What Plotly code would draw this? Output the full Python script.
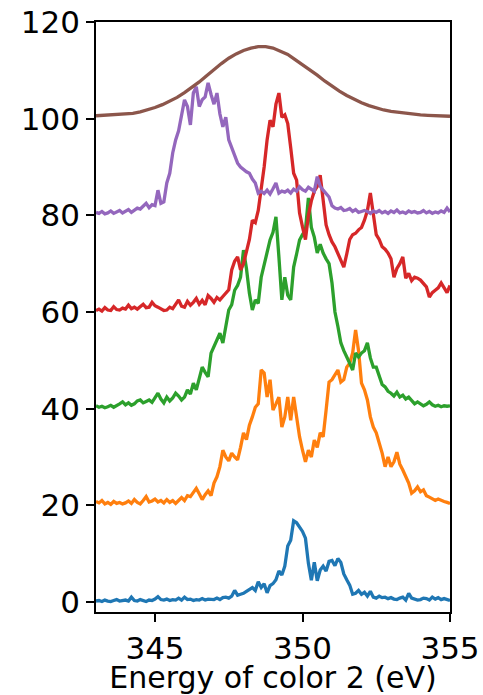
import numpy as np
import plotly.graph_objects as go

# Energy grid (eV) for the measured spectra, 0.1 eV step
energy = np.round(np.linspace(343.0, 355.0, 121), 1)
# Energy grid for the smooth (brown) spectrum, 0.25 eV step
energy_smooth = np.round(np.linspace(343.0, 355.0, 49), 2)

blue = [
    0.2, 0.3, 0.1, 0.4, 0.2, 0.1, 0.3, 0.5, 0.2, 0.3,
    0.4, 0.2, 1.0, 0.3, 0.2, 0.5, 0.3, 0.1, 0.4, 0.3,
    0.6, 1.1, 0.5, 0.4, 0.6, 0.3, 0.5, 0.4, 0.8, 0.4,
    1.0, 0.5, 0.6, 0.3, 0.5, 0.4, 0.7, 0.4, 0.6, 0.5,
    0.5, 0.8, 0.5, 0.9, 1.0, 0.8, 1.2, 2.4, 1.4, 1.6,
    1.8, 2.2, 2.6, 3.0, 2.4, 4.2, 3.0, 3.8, 1.9, 3.4,
    3.8, 4.6, 6.4, 5.6, 7.4, 11.6, 12.8, 16.8, 16.4, 15.6,
    14.6, 13.2, 8.0, 4.5, 8.2, 4.4, 6.6, 7.4, 6.4, 8.4,
    8.6, 7.5, 9.0, 8.2, 5.8, 4.6, 3.5, 1.6, 1.8, 2.4,
    1.6, 2.0, 1.2, 2.2, 1.0, 0.8, 1.2, 0.9, 1.0, 0.7,
    0.9, 0.6, 0.5, 0.8, 1.0, 0.4, 1.8, 0.8, 0.6, 0.4,
    0.5, 0.8, 0.7, 0.4, 1.0, 0.6, 0.9, 0.5, 0.7, 0.5,
    0.3,
]

orange = [
    20.8, 20.5, 21.0, 20.3, 20.6, 20.2, 20.8, 20.4, 20.6, 20.3,
    20.5, 20.9, 20.4, 21.2, 20.6, 20.3, 21.0, 21.8, 20.7, 20.9,
    21.3, 20.7, 21.0, 20.5, 21.2, 20.6, 21.0, 20.4, 21.0, 21.6,
    21.0, 22.0, 21.8, 22.6, 23.5, 22.4, 21.2, 22.2, 23.0, 22.0,
    24.6, 25.9, 28.0, 31.4, 30.0, 29.2, 30.8, 30.0, 29.4, 32.0,
    35.0, 33.6, 36.6, 38.3, 40.3, 41.0, 48.0, 47.4, 42.4, 46.0,
    39.7, 41.0, 42.4, 36.2, 38.3, 42.4, 37.6, 42.4, 38.0, 34.2,
    31.4, 29.0, 31.4, 30.0, 33.5, 32.0, 35.0, 34.2, 39.7, 45.5,
    46.0, 47.0, 48.0, 45.5, 46.0, 48.6, 49.4, 51.5, 56.3, 52.0,
    45.3, 43.9, 41.8, 38.3, 36.2, 35.0, 33.0, 30.8, 28.0, 30.0,
    28.0, 29.0, 31.0, 28.5, 27.3, 26.0, 24.6, 22.5, 23.0, 23.8,
    22.8, 23.2, 22.0, 21.7, 21.4, 21.0, 21.3, 21.0, 20.8, 20.6,
    20.4,
]

green = [
    40.6, 40.3, 40.5, 40.2, 40.4, 40.7, 40.3, 40.6, 41.0, 41.4,
    40.8, 41.2, 40.7, 41.0, 41.6, 41.8, 41.2, 41.5, 41.8, 41.3,
    42.4, 43.2, 42.0, 41.2, 42.4, 41.6, 42.2, 43.2, 42.6, 41.8,
    42.4, 43.9, 43.0, 45.3, 43.9, 46.0, 48.6, 47.5, 46.6, 51.5,
    53.0, 54.5, 55.6, 53.6, 57.5, 60.4, 61.5, 64.5, 65.5, 67.2,
    72.8, 69.0, 63.9, 60.4, 62.5, 61.8, 67.2, 70.0, 72.8, 74.9,
    76.5, 79.7, 71.4, 62.5, 67.2, 63.5, 62.5, 69.3, 72.0, 74.9,
    76.0, 77.0, 83.6, 77.5, 75.5, 72.2, 74.0, 72.2, 71.0, 70.0,
    66.0, 60.0, 57.0, 53.6, 52.0, 50.5, 49.4, 48.0, 51.5, 50.7,
    51.5, 52.0, 53.6, 50.5, 48.6, 48.6, 46.5, 45.0, 44.5, 43.6,
    43.2, 42.6, 43.4, 42.4, 42.8, 42.0, 42.4, 41.6, 41.0, 41.4,
    41.0, 40.6, 40.9, 41.4, 40.8, 40.5, 40.7, 40.4, 40.6, 40.5,
    40.6,
]

red = [
    60.3, 60.6, 60.2, 60.9, 60.4, 60.3, 61.1, 60.5, 60.4, 60.8,
    60.6, 61.4, 60.7, 61.0, 60.6, 61.2, 61.6, 60.9, 61.0, 62.0,
    61.3, 61.0, 60.6, 60.3, 60.4, 61.0, 60.7, 61.5, 62.5, 61.2,
    61.0, 62.2, 61.4, 62.0, 62.8, 61.6, 62.4, 61.5, 63.4, 62.8,
    62.0, 63.0, 62.5, 63.2, 64.0, 64.6, 68.7, 70.5, 71.4, 68.7,
    70.0, 72.8, 75.0, 79.0, 78.5, 81.0, 85.0, 90.0, 95.6, 99.7,
    98.3, 103.0, 105.3, 100.3, 100.8, 99.0, 94.0, 88.7, 87.3, 80.5,
    77.6, 75.0, 80.0, 83.0, 85.0, 86.0, 88.3, 83.0, 78.0, 76.0,
    74.5, 73.5, 72.2, 71.0, 69.3, 72.0, 75.0, 76.0, 76.3, 77.0,
    77.5, 79.0, 81.0, 84.6, 80.0, 76.0, 75.0, 73.5, 73.0, 72.2,
    71.0, 67.2, 69.0, 70.0, 71.4, 67.0, 68.0, 66.5, 67.2, 67.0,
    66.6, 66.0, 65.2, 63.1, 64.0, 64.5, 65.0, 66.0, 65.0, 64.0,
    65.5,
]

purple = [
    80.6, 80.4, 80.8, 80.3, 80.5, 80.9, 80.4, 80.7, 81.0, 80.5,
    80.8, 81.2, 80.6, 81.0, 81.5, 81.3, 81.8, 82.5, 81.6, 82.2,
    82.0, 85.2, 82.5, 82.8, 86.7, 88.7, 92.9, 95.6, 97.5, 100.3,
    103.9, 102.5, 98.7, 105.3, 106.6, 102.5, 103.9, 104.5, 107.4, 105.0,
    103.0, 105.3, 101.0, 98.3, 100.3, 95.6, 94.0, 92.0, 90.8, 90.0,
    89.4, 89.0, 88.7, 87.5, 86.7, 84.6, 85.0, 84.5, 85.2, 84.4,
    85.5, 86.7, 84.6, 85.0, 84.8, 85.2, 84.6, 85.4, 85.0, 85.9,
    85.3, 85.0, 85.8, 85.4, 85.0, 88.0, 86.0, 85.2, 84.5, 83.8,
    82.0, 81.5, 81.3, 81.6, 81.0, 81.1, 81.4, 80.8, 81.2, 80.6,
    80.8, 81.0, 80.8, 80.4, 80.9, 80.6, 81.0, 80.5, 80.8, 80.4,
    80.9, 80.6, 81.1, 80.5, 80.7, 80.4, 80.9, 80.6, 80.8, 80.5,
    80.6, 81.0, 80.5, 80.8, 80.4, 80.7, 80.5, 80.9, 80.6, 81.5,
    80.7,
]

brown = [
    100.6, 100.7, 100.7, 100.8, 100.9, 101.1, 101.4, 101.8, 102.3, 102.9,
    103.6, 104.4, 105.4, 106.4, 107.6, 108.9, 110.2, 111.4, 112.5, 113.4,
    114.1, 114.6, 114.9, 114.9, 114.6, 114.0, 113.3, 112.2, 111.2, 110.1,
    109.0, 107.8, 106.7, 105.7, 104.8, 104.0, 103.3, 102.7, 102.2, 101.8,
    101.5, 101.3, 101.1, 100.9, 100.8, 100.7, 100.6, 100.6, 100.5,
]

x_ticks = [345, 350, 355]
y_ticks = [0, 20, 40, 60, 80, 100, 120]
x_title = "Energy of color 2 (eV)"

series = [
    (energy, blue, "#1f77b4"),
    (energy, orange, "#ff7f0e"),
    (energy, green, "#2ca02c"),
    (energy, red, "#d62728"),
    (energy, purple, "#9467bd"),
    (energy_smooth, brown, "#8c564b"),
]

fig = go.Figure()
for xs, ys, col in series:
    fig.add_trace(go.Scatter(x=xs, y=ys, mode="lines",
                             line=dict(color=col, width=3.3),
                             showlegend=False, hoverinfo="skip"))

font = dict(family="DejaVu Sans", size=31, color="black")
title_font = dict(family="DejaVu Sans", size=30, color="black")
fig.update_layout(
    width=483, height=695,
    margin=dict(l=96, r=33, t=22, b=83),
    paper_bgcolor="white", plot_bgcolor="white",
    font=font,
)
fig.update_xaxes(
    range=[343, 355], tickvals=x_ticks, ticktext=[str(v) for v in x_ticks],
    showgrid=False, zeroline=False, automargin=False,
    showline=True, mirror=True, linecolor="black", linewidth=1.8,
    ticks="outside", ticklen=8, tickwidth=1.8, tickcolor="black",
    ticklabelstandoff=0, ticklabeloverflow="allow",
    title=dict(text=x_title, font=title_font, standoff=6),
    tickfont=font,
)
fig.update_yaxes(
    range=[-2.07, 120], tickvals=y_ticks, ticktext=[str(v) for v in y_ticks],
    showgrid=False, zeroline=False, automargin=False,
    showline=True, mirror=True, linecolor="black", linewidth=1.8,
    ticks="outside", ticklen=8, tickwidth=1.8, tickcolor="black",
    ticklabeloverflow="allow",
    tickfont=font,
)

fig.write_html(
    "out.html",
    config={"displayModeBar": False},
    post_script="document.body.style.margin='0';document.body.style.overflow='hidden';",
)
